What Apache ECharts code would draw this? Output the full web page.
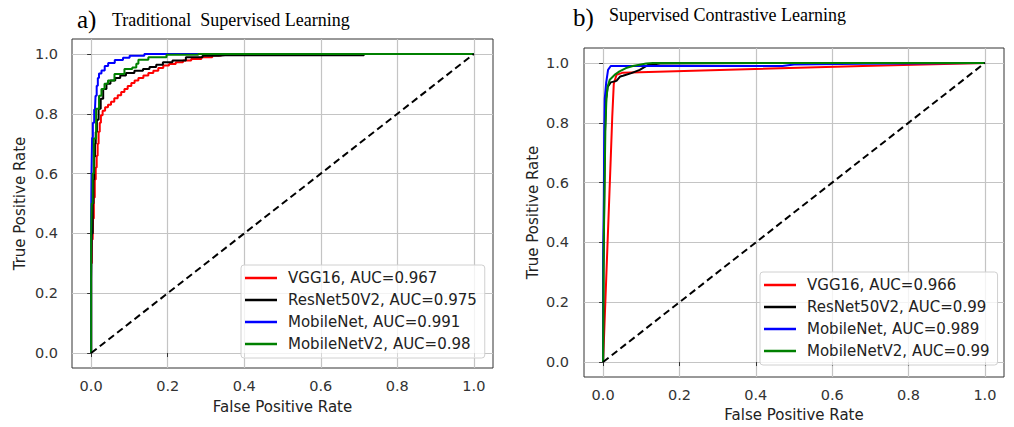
<!DOCTYPE html>
<html>
<head>
<meta charset="utf-8">
<title>ROC curves</title>
<script src="https://cdn.jsdelivr.net/npm/echarts@6.0.0/dist/echarts.min.js"></script>
<style>
  html, body { margin: 0; padding: 0; background: #fff; }
  #roc { width: 1014px; height: 427px; }
</style>
</head>
<body>
<div id="roc"></div>
<script>
// tick positions shared by both panels
var ticks = [0, 0.2, 0.4, 0.6, 0.8, 1.0];
var diagonal = [[0, 0], [1, 1]];

// a) Traditional Supervised Learning  -- [fpr, tpr]
var vggA = [[0, 0], [0, 0.3], [0.004, 0.38], [0.006, 0.45], [0.008, 0.52], [0.011, 0.58], [0.013, 0.62],
  [0.016, 0.66], [0.018, 0.7], [0.021, 0.74], [0.024, 0.77], [0.027, 0.795], [0.033, 0.81], [0.04, 0.822],
  [0.048, 0.83], [0.056, 0.84], [0.065, 0.852], [0.074, 0.862], [0.083, 0.873], [0.091, 0.883], [0.1, 0.893],
  [0.11, 0.903], [0.117, 0.911], [0.13, 0.92], [0.143, 0.928], [0.156, 0.936], [0.169, 0.944], [0.182, 0.953],
  [0.195, 0.961], [0.212, 0.966], [0.23, 0.972], [0.25, 0.978], [0.273, 0.983], [0.303, 0.989], [0.33, 0.995],
  [0.35, 1.0], [1, 1]];
var resA = [[0, 0], [0, 0.25], [0.003, 0.4], [0.005, 0.5], [0.007, 0.58], [0.009, 0.656], [0.011, 0.7],
  [0.013, 0.739], [0.017, 0.78], [0.022, 0.817], [0.028, 0.85], [0.035, 0.883], [0.045, 0.9], [0.056, 0.911],
  [0.07, 0.92], [0.082, 0.928], [0.1, 0.936], [0.126, 0.944], [0.145, 0.95], [0.16, 0.956], [0.18, 0.964],
  [0.195, 0.972], [0.23, 0.978], [0.265, 0.989], [0.317, 0.994], [0.35, 0.996], [0.71, 0.996], [0.715, 1.0], [1, 1]];
var mobA = [[0, 0], [0, 0.45], [0.002, 0.6], [0.003, 0.72], [0.006, 0.77], [0.01, 0.814], [0.013, 0.86],
  [0.016, 0.894], [0.019, 0.92], [0.022, 0.935], [0.032, 0.945], [0.039, 0.96], [0.05, 0.97], [0.0735, 0.98],
  [0.093, 0.987], [0.108, 0.994], [0.17, 1.0], [1, 1]];
var mob2A = [[0, 0], [0, 0.4], [0.003, 0.5], [0.005, 0.6], [0.0087, 0.717], [0.0173, 0.817], [0.024, 0.86],
  [0.03, 0.883], [0.04, 0.9], [0.048, 0.911], [0.074, 0.933], [0.1, 0.95], [0.115, 0.955], [0.121, 0.967],
  [0.126, 0.981], [0.173, 0.989], [0.221, 0.997], [0.26, 0.997], [0.3, 1.0], [1, 1]];

// b) Supervised Contrastive Learning
var vggB = [[0, 0], [0.02, 0.68], [0.024, 0.82], [0.028, 0.93], [0.035, 0.96], [0.05, 0.967], [0.68, 0.99], [1, 1]];
var resB = [[0, 0], [0.001, 0.3], [0.003, 0.55], [0.005, 0.77], [0.008, 0.88], [0.012, 0.92], [0.02, 0.935],
  [0.035, 0.94], [0.045, 0.955], [0.052, 0.957], [0.074, 0.966], [0.096, 0.977], [0.117, 0.993], [0.15, 0.998],
  [0.5, 1.0], [1, 1]];
var mobB = [[0, 0], [0, 0.33], [0.002, 0.55], [0.003, 0.77], [0.0043, 0.88], [0.008, 0.933], [0.013, 0.977],
  [0.02, 0.99], [0.47, 0.99], [0.5, 0.995], [0.68, 0.997], [1, 1]];
var mob2B = [[0, 0], [0.001, 0.32], [0.004, 0.6], [0.006, 0.78], [0.0087, 0.88], [0.012, 0.921], [0.0174, 0.944],
  [0.03, 0.96], [0.043, 0.972], [0.06, 0.983], [0.078, 0.99], [0.113, 0.998], [0.13, 1.0], [1, 1]];

var namesA = ['VGG16, AUC=0.967', 'ResNet50V2, AUC=0.975', 'MobileNet, AUC=0.991', 'MobileNetV2, AUC=0.98'];
var namesB = ['VGG16, AUC=0.966', 'ResNet50V2, AUC=0.99', 'MobileNet, AUC=0.989', 'MobileNetV2, AUC=0.99'];
var colors = ['#ff0000', '#000000', '#0000ff', '#008000'];

var font = 'DejaVu Sans';

function xAxisOf(i, gap) {
  return {
    gridIndex: i, type: 'value', min: -0.05, max: 1.05,
    axisLine: { show: false },
    axisTick: { show: true, customValues: ticks, length: 4, lineStyle: { color: '#333' } },
    axisLabel: {
      customValues: ticks, margin: 10, fontSize: 14.5, color: '#333', fontFamily: font,
      formatter: function (v) { return v.toFixed(1); }
    },
    splitLine: { show: true, lineStyle: { color: '#c4c4c4', width: 1.2 } },
    name: 'False Positive Rate', nameLocation: 'middle', nameGap: gap,
    nameTextStyle: { fontSize: 15, color: '#222', fontFamily: font }
  };
}

function yAxisOf(i, margin, gap) {
  return {
    gridIndex: i, type: 'value', min: -0.05, max: 1.05,
    axisLine: { show: false },
    axisTick: { show: true, customValues: ticks, length: 4, lineStyle: { color: '#333' } },
    axisLabel: {
      customValues: ticks, margin: margin, fontSize: 14.5, color: '#333', fontFamily: font,
      formatter: function (v) { return v.toFixed(1); }
    },
    splitLine: { show: true, lineStyle: { color: '#c4c4c4', width: 1.2 } },
    name: 'True Positive Rate', nameLocation: 'middle', nameGap: gap,
    nameTextStyle: { fontSize: 15, color: '#222', fontFamily: font }
  };
}

// left panel curves are drawn as staircases like the original ROC output
function curves(i, names, sets, step) {
  var out = [];
  for (var k = 0; k < sets.length; k++) {
    out.push({
      name: names[k], type: 'line', xAxisIndex: i, yAxisIndex: i,
      data: sets[k], symbol: 'none', z: 3 + k, step: step,
      lineStyle: { width: 2, color: colors[k] }, itemStyle: { color: colors[k] }
    });
  }
  out.push({
    name: 'chance' + i, type: 'line', xAxisIndex: i, yAxisIndex: i,
    data: diagonal, symbol: 'none', z: 7,
    lineStyle: { width: 2, color: '#000', type: [7, 4] }
  });
  return out;
}

function legendOf(names, left, top) {
  return {
    data: names, left: left, top: top, orient: 'vertical',
    icon: 'rect', padding: [2, 8, 3, 4], itemGap: 0, itemWidth: 32, itemHeight: 2.5,
    backgroundColor: 'rgba(255,255,255,0.8)', borderColor: '#d0d0d0', borderWidth: 1, borderRadius: 3,
    textStyle: { fontSize: 15, color: '#222', fontFamily: font, lineHeight: 22, padding: [0, 0, 0, 6] }
  };
}

var chart = echarts.init(document.getElementById('roc'), null, { renderer: 'svg' });

var option = {
  animation: false,
  backgroundColor: '#fff',
  grid: [
    { left: 72, top: 39, width: 421, height: 329, show: true, borderColor: '#333', borderWidth: 1 },
    { left: 584, top: 48, width: 420, height: 329, show: true, borderColor: '#333', borderWidth: 1 }
  ],
  xAxis: [xAxisOf(0, 31), xAxisOf(1, 30)],
  yAxis: [yAxisOf(0, 14, 45), yAxisOf(1, 15, 44)],
  legend: [legendOf(namesA, 241, 265), legendOf(namesB, 760, 272)],
  graphic: [
    { type: 'text', left: 77, top: 7, style: { text: 'a)', font: '25px "Liberation Serif"', fill: '#000' } },
    { type: 'text', left: 112, top: 11, style: { text: 'Traditional  Supervised Learning', font: '18px "Liberation Serif"', fill: '#000' } },
    { type: 'text', left: 573, top: 5, style: { text: 'b)', font: '25px "Liberation Serif"', fill: '#000' } },
    { type: 'text', left: 609, top: 6, style: { text: 'Supervised Contrastive Learning', font: '18px "Liberation Serif"', fill: '#000' } }
  ],
  series: curves(0, namesA, [vggA, resA, mobA, mob2A], 'middle')
    .concat(curves(1, namesB, [vggB, resB, mobB, mob2B], false))
};

chart.setOption(option);
</script>
</body>
</html>
